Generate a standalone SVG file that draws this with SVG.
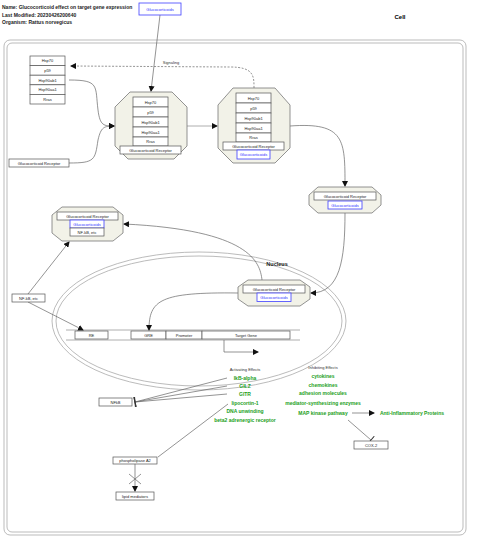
<svg xmlns="http://www.w3.org/2000/svg" width="480" height="548" viewBox="0 0 480 548">
<style>
text{font-family:"Liberation Sans",Arial,sans-serif}
.h{font-size:5px;font-weight:bold;fill:#222}
.b{fill:#fff;stroke:#555;stroke-width:0.7}
.bb{fill:#fff;stroke:#4040ff;stroke-width:0.8}
.t{font-size:4px;fill:#222;text-anchor:middle}
.tb{font-size:4px;fill:#3030ff;text-anchor:middle}
.oct{fill:#f2f2e8;stroke:#777;stroke-width:0.8}
.g{font-size:5px;fill:#22a022;text-anchor:middle;font-weight:bold}
.s{font-size:4px;fill:#333;text-anchor:middle}
.c{fill:none;stroke:#666;stroke-width:0.7}
.cg{fill:none;stroke:#999;stroke-width:0.8}
.mem{fill:none;stroke:#aaa;stroke-width:0.8}
</style>
<defs>
<marker id="ar" markerWidth="6" markerHeight="6" refX="5" refY="3" orient="auto" markerUnits="userSpaceOnUse"><path d="M0,0L6,3L0,6z" fill="#111"/></marker>
<marker id="tb" markerWidth="2" markerHeight="10" refX="1" refY="5" orient="auto" markerUnits="userSpaceOnUse"><path d="M1,0V10" stroke="#333" stroke-width="1"/></marker>
</defs>
<rect width="480" height="548" fill="#fff"/>
<text class="h" x="2" y="9">Name: Glucocorticoid effect on target gene expression</text>
<text class="h" x="2" y="16.5">Last Modified: 20230426200640</text>
<text class="h" x="2" y="24">Organism: Rattus norvegicus</text>
<text x="400" y="19" style="font-size:6px;font-weight:bold;text-anchor:middle">Cell</text>
<rect class="mem" x="4" y="40" width="462" height="495" rx="6"/>
<rect class="mem" x="7" y="43" width="456" height="489" rx="5"/>
<ellipse class="mem" cx="199" cy="321" rx="147" ry="69"/>
<ellipse class="mem" cx="199" cy="321" rx="143" ry="65"/>
<text x="277" y="266" style="font-size:5.5px;font-weight:bold;text-anchor:middle;fill:#222">Nucleus</text>
<g id="dna">
<line x1="66" y1="330" x2="300" y2="330" class="cg"/>
<line x1="66" y1="340" x2="300" y2="340" class="cg"/>
</g>
<g id="connectors">
<path class="c" d="M160,15L151,91" marker-end="url(#ar)"/>
<path class="c" d="M254,88C254,76 254,67 230,67L71,66" stroke-dasharray="2,1.5" marker-end="url(#ar)"/>
<text x="171" y="64" class="s">Signaling</text>
<path class="c" d="M69,80C100,80 95,86 98,110C100,126 104,126 114,126" marker-end="url(#ar)"/>
<path class="c" d="M69,163C95,163 95,160 98,140C101,127 104,126 114,126" marker-end="url(#ar)"/>
<path class="cg" d="M187,126L217,126" marker-end="url(#ar)"/>
<path class="c" d="M290,126C345,122 345,140 345,186" marker-end="url(#ar)"/>
<path class="c" d="M345,213C345,260 340,293 311,293" marker-end="url(#ar)"/>
<path class="c" d="M238,293C160,292 149,300 149,330" marker-end="url(#ar)"/>
<path class="c" d="M262,280C260,262 250,230 124,224" marker-end="url(#ar)"/>
<path class="c" d="M28,294L69,242" marker-end="url(#ar)"/>
<path class="c" d="M28,302L83,330" marker-end="url(#ar)"/>
<path class="c" d="M224,340V352H258" marker-end="url(#ar)"/>
<path class="c" d="M227,378L135,402" marker-end="url(#tb)"/>
<path class="c" d="M227,386L135,402" marker-end="url(#tb)"/>
<path class="c" d="M227,394L135,402" marker-end="url(#tb)"/>
<path class="c" d="M228,404L158,457"/>
<path class="c" d="M352,413L374,413" marker-end="url(#ar)"/>
<path class="c" d="M348,420L371,440" marker-end="url(#tb)"/>
<path class="c" d="M135,464V491" marker-end="url(#ar)"/>
<path class="c" d="M129,474L141,484M141,474L129,484"/>
</g>
<g id="glucocorticoids-top"><rect class="bb" x="139" y="3" width="42" height="12"/><text class="tb" x="160" y="10.5">Glucocorticoids</text></g>
<g id="stack-left">
<rect class="b" x="30" y="56" width="35" height="9.6"/><text class="t" x="47.5" y="62.3">Hsp70</text>
<rect class="b" x="30" y="65.6" width="35" height="9.6"/><text class="t" x="47.5" y="71.9">p59</text>
<rect class="b" x="30" y="75.2" width="35" height="9.6"/><text class="t" x="47.5" y="81.5">Hsp90ab1</text>
<rect class="b" x="30" y="84.8" width="35" height="9.6"/><text class="t" x="47.5" y="91.1">Hsp90aa1</text>
<rect class="b" x="30" y="94.4" width="35" height="9.6"/><text class="t" x="47.5" y="100.7">Rras</text>
</g>
<g id="gr-left"><rect class="b" x="9" y="159" width="60" height="8"/><text class="t" x="39" y="164.5">Glucocorticoid Receptor</text></g>
<g id="complex1">
<polygon class="oct" points="130,92 172,92 187,107 187,146 174,159 128,159 115,146 115,107"/>
<rect class="b" x="133" y="97" width="35" height="10"/><text class="t" x="150.5" y="103.5">Hsp70</text>
<rect class="b" x="133" y="107" width="35" height="10"/><text class="t" x="150.5" y="113.5">p59</text>
<rect class="b" x="133" y="117" width="35" height="10"/><text class="t" x="150.5" y="123.5">Hsp90ab1</text>
<rect class="b" x="133" y="127" width="35" height="10"/><text class="t" x="150.5" y="133.5">Hsp90aa1</text>
<rect class="b" x="133" y="137" width="35" height="9"/><text class="t" x="150.5" y="143">Rras</text>
<rect class="b" x="120" y="146" width="61" height="8"/><text class="t" x="150.5" y="151.5">Glucocorticoid Receptor</text>
</g>
<g id="complex2">
<polygon class="oct" points="233,88 275,88 290,105 290,148 275,163 233,163 218,148 218,105"/>
<rect class="b" x="236" y="93" width="35" height="10"/><text class="t" x="253.5" y="99.5">Hsp70</text>
<rect class="b" x="236" y="103" width="35" height="10"/><text class="t" x="253.5" y="109.5">p59</text>
<rect class="b" x="236" y="113" width="35" height="10"/><text class="t" x="253.5" y="119.5">Hsp90ab1</text>
<rect class="b" x="236" y="123" width="35" height="10"/><text class="t" x="253.5" y="129.5">Hsp90aa1</text>
<rect class="b" x="236" y="133" width="35" height="9"/><text class="t" x="253.5" y="139">Rras</text>
<rect class="b" x="223" y="142" width="61" height="8"/><text class="t" x="253.5" y="147.5">Glucocorticoid Receptor</text>
<rect class="bb" x="237" y="150" width="33" height="9"/><text class="tb" x="253.5" y="156">Glucocorticoids</text>
</g>
<g id="complex3">
<polygon class="oct" points="318,187 372,187 381,195 381,205 372,213 318,213 309,205 309,195"/>
<rect class="b" x="314" y="192" width="62" height="8"/><text class="t" x="345" y="197.5">Glucocorticoid Receptor</text>
<rect class="bb" x="328" y="201" width="34" height="8"/><text class="tb" x="345" y="206.5">Glucocorticoids</text>
</g>
<g id="complex4">
<polygon class="oct" points="62,207 113,207 123,215 123,233 113,241 62,241 52,233 52,215"/>
<rect class="b" x="57" y="212" width="61" height="8"/><text class="t" x="87.5" y="217.5">Glucocorticoid Receptor</text>
<rect class="bb" x="70" y="220" width="34" height="8"/><text class="tb" x="87" y="225.5">Glucocorticoids</text>
<rect class="b" x="70" y="228" width="34" height="8"/><text class="t" x="87" y="233.5">NF-kB, etc</text>
</g>
<g id="complex5">
<polygon class="oct" points="248,280 300,280 310,287 310,299 300,306 248,306 238,299 238,287"/>
<rect class="b" x="243" y="285" width="62" height="8"/><text class="t" x="274" y="290.5">Glucocorticoid Receptor</text>
<rect class="bb" x="257" y="293" width="34" height="8.5"/><text class="tb" x="274" y="299">Glucocorticoids</text>
</g>
<g id="nfkb-etc"><rect class="b" x="12" y="294" width="33" height="8"/><text class="t" x="28.5" y="299.5">NF-kB, etc</text></g>
<g id="re"><rect class="b" x="75" y="331" width="33" height="8"/><text class="t" x="91.5" y="336.5">RE</text></g>
<g id="gre"><rect class="b" x="131" y="331" width="35" height="8"/><text class="t" x="148.5" y="336.5">GRE</text></g>
<g id="promoter"><rect class="b" x="166" y="331" width="36" height="8"/><text class="t" x="184" y="336.5">Promoter</text></g>
<g id="target-gene"><rect class="b" x="202" y="331" width="88" height="8"/><text class="t" x="246" y="336.5">Target Gene</text></g>
<g id="activating">
<text class="s" x="245" y="371">Activating Effects</text>
<text class="g" x="245" y="380">IkB-alpha</text>
<text class="g" x="245" y="388">GILZ</text>
<text class="g" x="245" y="396">GITR</text>
<text class="g" x="245" y="405">lipocortin-1</text>
<text class="g" x="245" y="413">DNA unwinding</text>
<text class="g" x="245" y="422">beta2 adrenergic receptor</text>
</g>
<g id="inhibiting">
<text class="s" x="323" y="369">Inhibiting Effects</text>
<text class="g" x="323" y="378">cytokines</text>
<text class="g" x="323" y="387">chemokines</text>
<text class="g" x="323" y="395">adhesion molecules</text>
<text class="g" x="323" y="405">mediator-synthesizing enzymes</text>
<text class="g" x="323" y="415">MAP kinase pathway</text>
</g>
<g id="anti-inflammatory"><text class="g" x="412" y="415">Anti-Inflammatory Proteins</text></g>
<g id="cox2"><rect class="b" x="354" y="441" width="34" height="8"/><text class="t" x="371" y="446.5">COX-2</text></g>
<g id="nfkb"><rect class="b" x="99" y="398" width="33" height="8"/><text class="t" x="115.5" y="403.5">NFkB</text></g>
<g id="pla2"><rect class="b" x="113" y="457" width="44" height="7"/><text class="t" x="135" y="462">phospholipase A2</text></g>
<g id="lipid"><rect class="b" x="116" y="492" width="38" height="8"/><text class="t" x="135" y="497.5">lipid mediators</text></g>
</svg>
